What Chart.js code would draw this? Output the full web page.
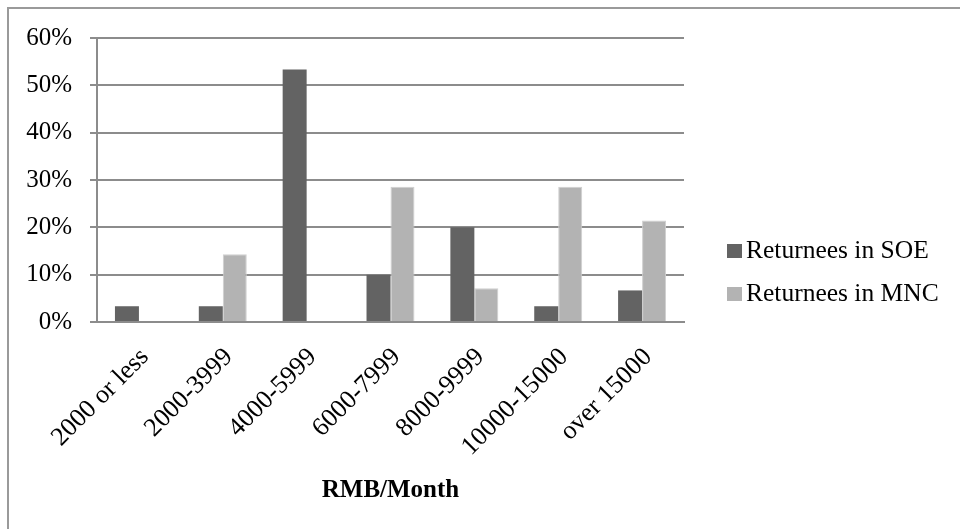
<!DOCTYPE html>
<html>
<head>
<meta charset="utf-8">
<script src="https://cdn.jsdelivr.net/npm/chart.js@4/dist/chart.umd.min.js"></script>
<style>
  html, body { margin: 0; padding: 0; background: #fff; }
  #wrap { width: 960px; height: 529px; }
</style>
</head>
<body>
<div id="wrap"><canvas id="c" width="960" height="529"></canvas></div>
<script>
// Monthly income of returnees, share of respondents per income band (%)
const categories = ['2000 or less', '2000-3999', '4000-5999', '6000-7999', '8000-9999', '10000-15000', 'over 15000'];
const soeShare = [3.33, 3.33, 53.33, 10.0, 20.0, 3.33, 6.67];
const mncShare = [0, 14.29, 0, 28.57, 7.14, 28.57, 21.43];
const seriesNames = ['Returnees in SOE', 'Returnees in MNC'];
const axisTitle = 'RMB/Month';
const yTicks = [0, 10, 20, 30, 40, 50, 60];

const FONT = '"Liberation Serif", "Times New Roman", serif';
const GRID = '#8c8c8c';

// Frame, side legend and axis caption
const decorations = {
  id: 'decorations',
  beforeDraw(chart) {
    const ctx = chart.ctx;
    ctx.save();
    ctx.strokeStyle = '#9a9a9a';
    ctx.lineWidth = 2;
    ctx.beginPath();
    ctx.moveTo(8, 529);
    ctx.lineTo(8, 8);
    ctx.lineTo(960, 8);
    ctx.stroke();
    ctx.restore();
  },
  afterDraw(chart) {
    const ctx = chart.ctx;
    const area = chart.chartArea;
    ctx.save();
    // legend
    ctx.font = '25.5px ' + FONT;
    ctx.textBaseline = 'alphabetic';
    ctx.textAlign = 'left';
    const rows = [258, 301];
    chart.data.datasets.forEach((ds, i) => {
      const base = rows[i];
      ctx.fillStyle = ds.backgroundColor;
      ctx.fillRect(727, base - 14, 15, 14);
      ctx.fillStyle = '#000';
      ctx.fillText(ds.label, 746, base);
    });
    // x-axis caption, centred under the plot
    ctx.font = 'bold 25px ' + FONT;
    ctx.textAlign = 'center';
    ctx.fillStyle = '#000';
    ctx.fillText(axisTitle, (area.left + area.right) / 2, 497);
    ctx.restore();
  }
};

new Chart(document.getElementById('c'), {
  type: 'bar',
  data: {
    labels: categories,
    datasets: [
      { label: seriesNames[0], data: soeShare, backgroundColor: '#636363', borderWidth: 0 },
      { label: seriesNames[1], data: mncShare, backgroundColor: '#b3b3b3', borderColor: '#cfcfcf', borderWidth: 1 }
    ]
  },
  options: {
    responsive: false,
    animation: false,
    layout: { padding: { top: 38, right: 276, left: 0, bottom: 0 } },
    categoryPercentage: 0.572,
    barPercentage: 1.0,
    plugins: {
      legend: { display: false },
      tooltip: { enabled: false }
    },
    scales: {
      x: {
        grid: { display: false, drawTicks: false },
        border: { display: true, color: GRID, width: 2 },
        ticks: {
          font: { family: FONT, size: 26 },
          color: '#000',
          minRotation: 45,
          maxRotation: 45,
          padding: 20,
          labelOffset: 6,
          autoSkip: false
        },
        afterFit(scale) { scale.height = 207; }
      },
      y: {
        min: 0,
        max: 60,
        afterBuildTicks(scale) { scale.ticks = yTicks.map(v => ({ value: v })); },
        grid: { color: GRID, lineWidth: 2, tickLength: 7, drawTicks: true },
        border: { display: true, color: GRID, width: 2 },
        ticks: {
          font: { family: FONT, size: 25 },
          color: '#000',
          padding: 18,
          callback: v => v + '%'
        },
        afterFit(scale) { scale.width = 97; }
      }
    }
  },
  plugins: [decorations]
});
</script>
</body>
</html>
